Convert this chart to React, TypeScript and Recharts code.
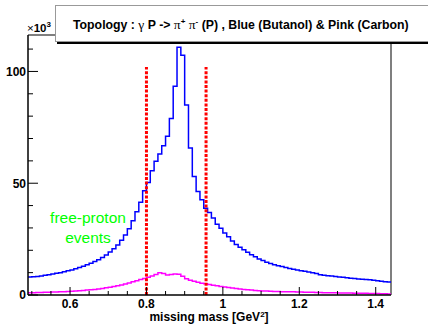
import React from 'react';
import { ComposedChart, Line, XAxis, YAxis, ReferenceLine } from 'recharts';

// histogram binning (GeV^2)
const X_MIN = 0.49;
const X_MAX = 1.44;
const BIN_WIDTH = 0.01;
const Y_MAX = 116.3; // x10^3 events

// blue histogram: butanol target (x10^3 counts per bin)
const butanol = [
  8.0, 8.2, 8.3, 8.5, 8.8, 9.1, 9.4, 9.7, 10.0, 10.4,
  10.8, 11.2, 11.7, 12.3, 12.9, 13.5, 14.2, 15.0, 15.8, 16.8,
  17.9, 19.2, 20.7, 22.4, 24.5, 26.8, 29.6, 33.2, 37.2, 41.5,
  46.6, 50.3, 55.6, 59.8, 63.1, 66.8, 71.0, 78.9, 93.4, 110.8,
  107.2, 85.0, 65.7, 53.0, 46.3, 42.6, 38.8, 36.9, 34.4, 31.7,
  29.9, 27.7, 26.0, 24.2, 22.6, 21.4, 20.2, 19.1, 18.0, 17.1,
  16.1, 15.4, 14.7, 14.1, 13.5, 13.1, 12.7, 12.3, 11.9, 11.5,
  11.2, 10.9, 10.6, 10.3, 10.0, 9.6, 9.1, 8.8, 8.6, 8.5,
  8.3, 8.1, 7.9, 7.7, 7.5, 7.4, 7.2, 7.0, 6.9, 6.8,
  6.6, 6.4, 6.1, 5.9, 5.8,
];

// pink histogram: carbon target
const carbon = [
  1.0, 1.0, 1.1, 1.1, 1.2, 1.2, 1.3, 1.3, 1.4, 1.5,
  1.6, 1.7, 1.8, 1.9, 2.0, 2.2, 2.3, 2.5, 2.7, 2.9,
  3.2, 3.5, 3.8, 4.1, 4.5, 4.9, 5.4, 5.9, 6.4, 6.9,
  7.4, 7.9, 8.5, 9.2, 9.9, 9.6, 8.9, 9.2, 9.4, 9.3,
  8.4, 7.3, 6.6, 6.1, 5.7, 5.3, 5.0, 4.7, 4.4, 4.1,
  3.8, 3.6, 3.4, 3.1, 2.9, 2.7, 2.5, 2.3, 2.2, 2.0,
  1.9, 1.8, 1.8, 1.7, 1.6, 1.6, 1.5, 1.5, 1.4, 1.4,
  1.3, 1.3, 1.2, 1.2, 1.2, 1.1, 1.1, 1.0, 1.0, 1.0,
  1.0, 0.9, 0.9, 0.9, 0.9, 0.8, 0.8, 0.8, 0.8, 0.7,
  0.7, 0.7, 0.6, 0.6, 0.5,
];

// missing-mass cut window
const cutLines = [0.8, 0.956];
const CUT_TOP = 102;

const xMajorTicks = [0.6, 0.8, 1.0, 1.2, 1.4];
const xTickLabels = ['0.6', '0.8', '1', '1.2', '1.4'];
const xMinorTicks = [0.5, 0.55, 0.65, 0.7, 0.75, 0.85, 0.9, 0.95, 1.05, 1.1, 1.15, 1.25, 1.3, 1.35];
const yMajorTicks = [0, 50, 100];
const yTickLabels = ['0', '50', '100'];
const yMinorTicks = [10, 20, 30, 40, 60, 70, 80, 90, 110];

const FONT = '"Liberation Sans", Arial, Helvetica, sans-serif';
const GREEK = '"Liberation Serif", "Times New Roman", serif';

// step data: one point per bin left edge, plus closing edge
const histData = butanol.map((v, i) => ({
  x: Math.round((X_MIN + i * BIN_WIDTH) * 100) / 100,
  butanol: v,
  carbon: carbon[i],
}));
histData.push({ x: X_MAX, butanol: butanol[butanol.length - 1], carbon: carbon[carbon.length - 1] });

const xTicks = [...xMajorTicks, ...xMinorTicks].sort((a, b) => a - b);
const yTicks = [...yMajorTicks, ...yMinorTicks].sort((a, b) => a - b);

const renderXTick = (props: any) => {
  const { x, y, payload } = props;
  const idx = xMajorTicks.findIndex((t) => Math.abs(t - payload.value) < 1e-6);
  const major = idx >= 0;
  return (
    <g>
      <line x1={x} x2={x} y1={y} y2={y - (major ? 8 : 4)} stroke="#000" strokeWidth={1} />
      {major && (
        <text x={x} y={y + 13} textAnchor="middle" fontSize={12} fontWeight="bold" fontFamily={FONT} fill="#000">
          {xTickLabels[idx]}
        </text>
      )}
    </g>
  );
};

const renderYTick = (props: any) => {
  const { x, y, payload } = props;
  const idx = yMajorTicks.indexOf(payload.value);
  const major = idx >= 0;
  return (
    <g>
      <line x1={x} x2={x + (major ? 10 : 5)} y1={y} y2={y} stroke="#000" strokeWidth={1} />
      {major && (
        <text x={x - 2} y={y + 4.3} textAnchor="end" fontSize={12} fontWeight="bold" fontFamily={FONT} fill="#000">
          {yTickLabels[idx]}
        </text>
      )}
    </g>
  );
};

export default function App() {
  return (
    <div style={{ position: 'relative', width: 428, height: 324, overflow: 'hidden', background: '#fff', fontFamily: FONT }}>
      <style>{'body{margin:0}'}</style>
      <ComposedChart width={428} height={324} data={histData} margin={{ top: 35, right: 37, bottom: 0, left: 0 }}>
        <XAxis
          dataKey="x"
          type="number"
          domain={[X_MIN, X_MAX]}
          ticks={xTicks}
          interval={0}
          height={29}
          tickSize={0}
          tickMargin={0}
          tickLine={false}
          tick={renderXTick}
          axisLine={{ stroke: '#000', strokeWidth: 1.5 }}
          allowDataOverflow
        />
        <YAxis
          type="number"
          domain={[0, Y_MAX]}
          ticks={yTicks}
          interval={0}
          width={28}
          tickSize={0}
          tickMargin={0}
          tickLine={false}
          tick={renderYTick}
          axisLine={{ stroke: '#000', strokeWidth: 1.5 }}
          allowDataOverflow
        />
        <ReferenceLine y={Y_MAX} stroke="#000" strokeWidth={1.2} />
        <ReferenceLine x={X_MAX} stroke="#555" strokeWidth={1.5} />
        <Line dataKey="carbon" type="stepAfter" stroke="#ff00ff" strokeWidth={1.5} dot={false} isAnimationActive={false} />
        <Line dataKey="butanol" type="stepAfter" stroke="#0000ff" strokeWidth={1.5} dot={false} isAnimationActive={false} />
        {cutLines.map((c) => (
          <ReferenceLine
            key={c}
            segment={[{ x: c, y: 0 }, { x: c, y: CUT_TOP }]}
            stroke="#ff0000"
            strokeWidth={3}
            strokeDasharray="3 1.6"
          />
        ))}
      </ComposedChart>

      {/* exponent label */}
      <div style={{ position: 'absolute', left: 27, top: 22, fontSize: 11.5, fontWeight: 'bold', whiteSpace: 'nowrap', lineHeight: '13px' }}>
        <span style={{ fontWeight: 'normal' }}>×</span>10
        <span style={{ fontSize: 8, position: 'relative', top: -5 }}>3</span>
      </div>

      {/* title box */}
      <div
        style={{
          position: 'absolute',
          left: 55,
          top: 5,
          width: 400,
          height: 35,
          background: '#fff',
          border: '1px solid #999',
          boxShadow: '2px 2px 0 #000',
        }}
      />
      <div style={{ position: 'absolute', left: 73, top: 17, fontSize: 12.3, fontWeight: 'bold', whiteSpace: 'nowrap', lineHeight: '15px' }}>
        Topology : <span style={{ fontFamily: GREEK, fontWeight: 'normal', fontSize: 13.5 }}>γ</span> P -&gt;{' '}
        <span style={{ fontFamily: GREEK, fontWeight: 'normal', fontSize: 13.5 }}>π</span>
        <span style={{ fontSize: 8, position: 'relative', top: -5 }}>+</span>{' '}
        <span style={{ fontFamily: GREEK, fontWeight: 'normal', fontSize: 13.5 }}>π</span>
        <span style={{ fontSize: 8, position: 'relative', top: -5 }}>-</span> (P) , Blue (Butanol) &amp; Pink (Carbon)
      </div>

      {/* annotation */}
      <div style={{ position: 'absolute', left: 38, top: 208, width: 100, textAlign: 'center', color: '#00ff00', fontSize: 15.5, lineHeight: '20px' }}>
        free-proton
        <br />
        events
      </div>

      {/* x-axis title */}
      <div style={{ position: 'absolute', left: 109, top: 310, width: 200, textAlign: 'center', fontSize: 12, fontWeight: 'bold', whiteSpace: 'nowrap', lineHeight: '14px' }}>
        missing mass [GeV<span style={{ fontSize: 8, position: 'relative', top: -4 }}>2</span>]
      </div>
    </div>
  );
}
